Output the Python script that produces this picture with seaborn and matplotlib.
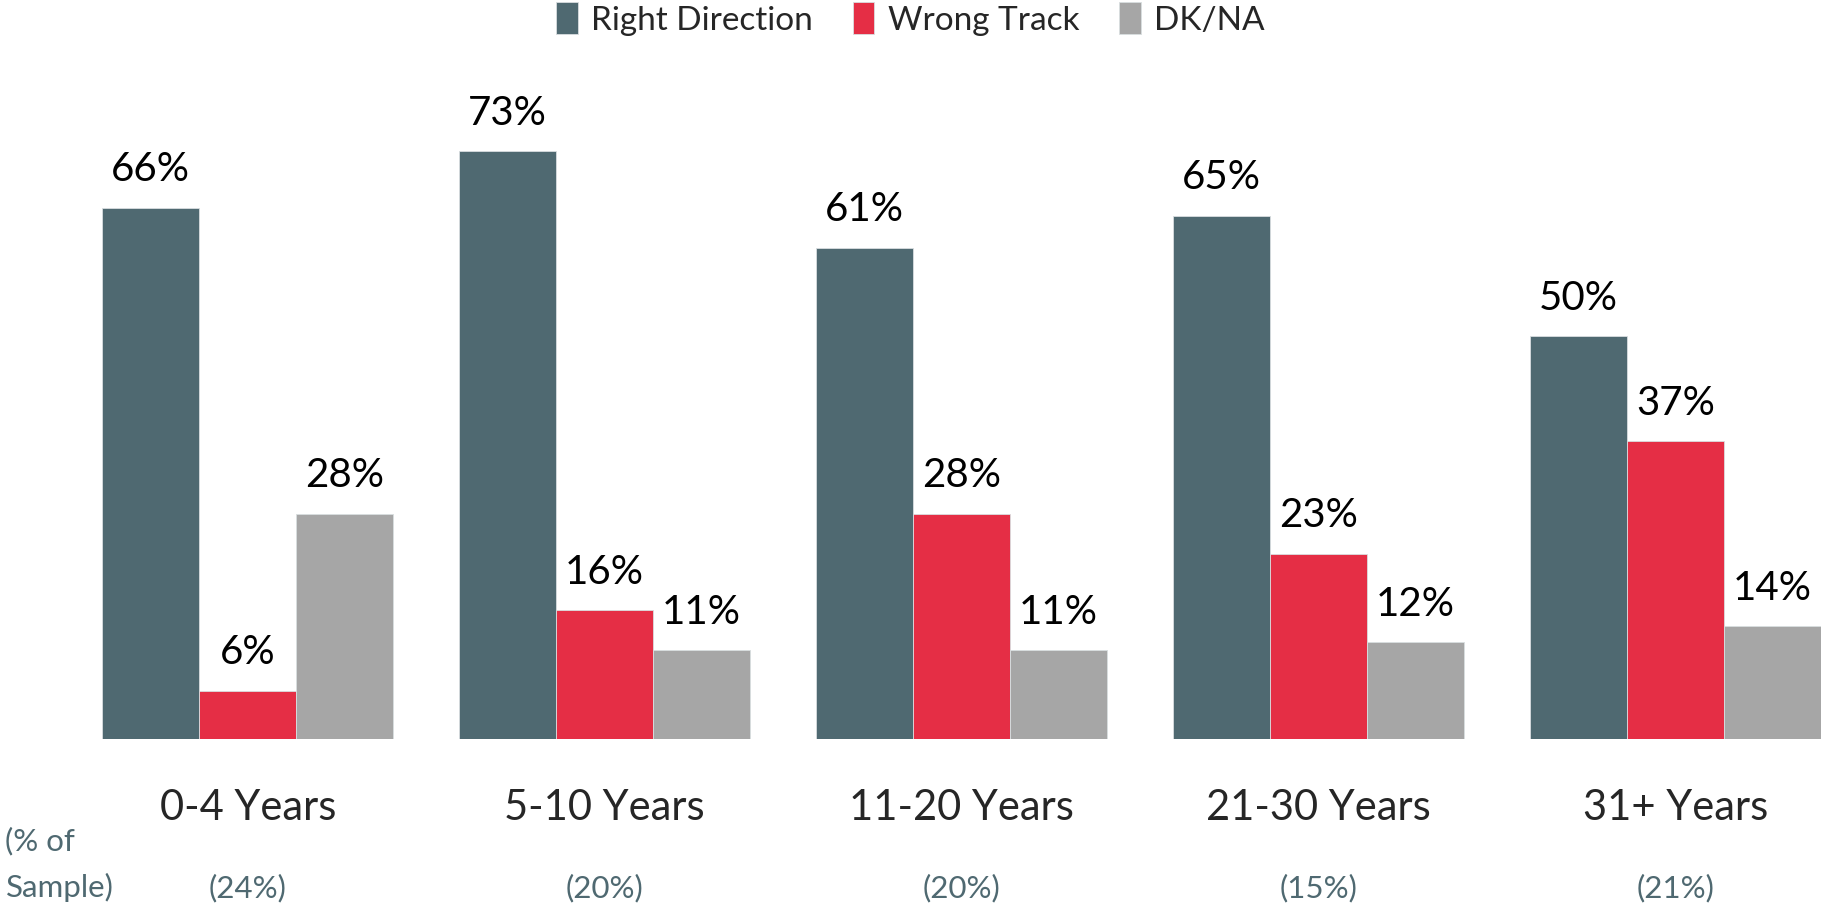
import pandas as pd
import seaborn as sns
from matplotlib import pyplot as plt

# chart data
groups = ["0-4 Years", "5-10 Years", "11-20 Years", "21-30 Years", "31+ Years"]
sample_share = ["(24%)", "(20%)", "(20%)", "(15%)", "(21%)"]
series = ["Right Direction", "Wrong Track", "DK/NA"]
right_direction = [66, 73, 61, 65, 50]
wrong_track = [6, 16, 28, 23, 37]
dk_na = [28, 11, 11, 12, 14]

colors = ["#4F6971", "#E52E45", "#A6A6A6"]
slate = "#4F6971"

sns.set_style("white")
plt.rcParams['font.family'] = ['Lato', 'DejaVu Sans']

# long format table for seaborn
rows = []
for name, vals in zip(series, [right_direction, wrong_track, dk_na]):
    for g, v in zip(groups, vals):
        rows.append({"group": g, "series": name, "value": v})
df = pd.DataFrame(rows)

fig = plt.figure(figsize=(18.21, 9.06), dpi=100)
ax = fig.add_axes([0.0, 0.1843, 1.0, 0.711])

sns.barplot(data=df, x="group", y="value", hue="series", order=groups,
            hue_order=series, palette=colors, width=0.816, saturation=1,
            edgecolor="#D9DEE0", linewidth=0.6, ax=ax, legend=True)

for cont in ax.containers:
    ax.bar_label(cont, labels=[f"{int(v)}%" for v in cont.datavalues],
                 padding=14, fontsize=29, color="black")

ax.set_xlim(-0.694, 4.408)
ax.set_ylim(0, 80)
ax.set_xlabel("")
ax.set_ylabel("")
ax.set_yticks([])
ax.tick_params(axis="x", length=0, labelsize=30, pad=36)
for s in ax.spines.values():
    s.set_visible(False)

leg = ax.legend(loc="center", bbox_to_anchor=(0.50, 0.979), bbox_transform=fig.transFigure,
                ncol=3, frameon=False, fontsize=24, handlelength=0.65, handleheight=1.1,
                handletextpad=0.4, columnspacing=1.2)

# sample share row under the category labels
for i, txt in enumerate(sample_share):
    ax.text(i, -0.231, txt, transform=ax.get_xaxis_transform(), ha="center", va="center",
            fontsize=22.5, color=slate)
fig.text(0.003, 0.072, "(% of", ha="left", va="center", fontsize=22.5, color=slate)
fig.text(0.003, 0.020, "Sample)", ha="left", va="center", fontsize=22.5, color=slate)

fig.savefig("out.png", dpi=100)
